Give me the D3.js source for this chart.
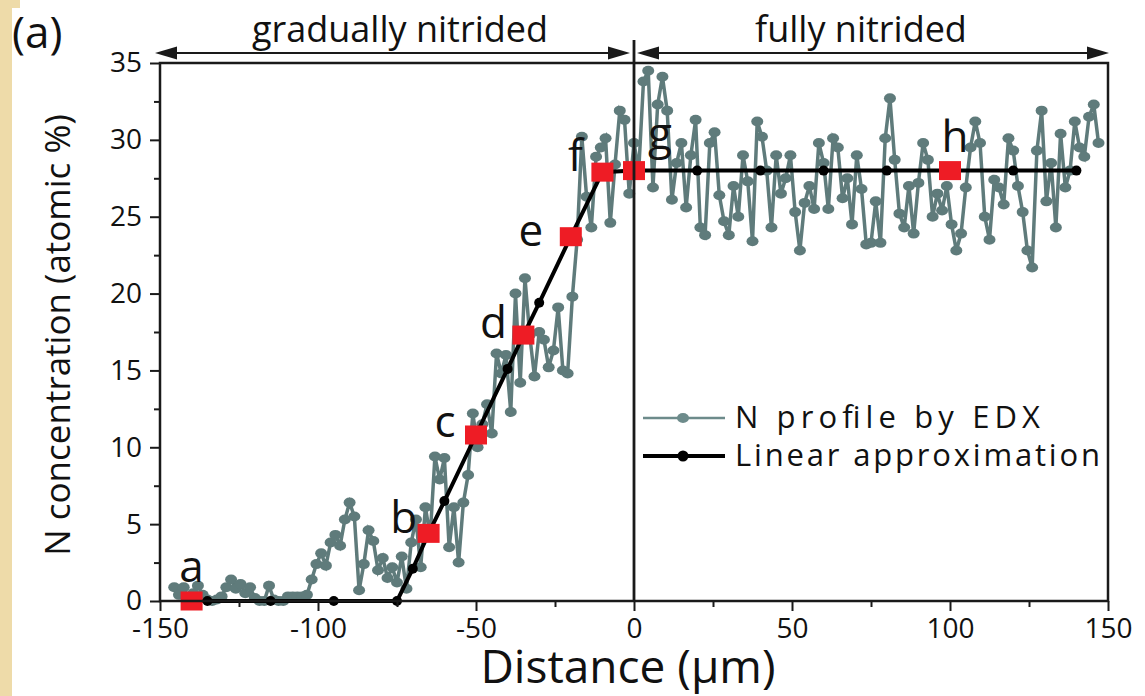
<!DOCTYPE html>
<html>
<head>
<meta charset="utf-8">
<script src="https://cdn.jsdelivr.net/npm/d3@7"></script>
<style>
  html, body { margin: 0; padding: 0; background: #fff; }
  svg { display: block; font-family: "Open Sans", sans-serif; }
</style>
</head>
<body>
<svg id="chart" width="1145" height="696"></svg>
<script>
// N profile by EDX, one reading every 1.5 um starting at -145.5 um
var edxStart = -145.5, edxStep = 1.5;
var edxN = [
  0.9, 0.4, 0.9, 0.2, 0.5, 1.0, 0.4, 0.1, 0, 0.1,
  0.3, 0.9, 1.4, 0.8, 1.1, 0.5, 0.9, 0.2, 0, 0,
  1.0, 0.1, 0, 0, 0.3, 0.3, 0.3, 0.3, 0.4, 1.4,
  2.4, 3.1, 2.3, 3.8, 4.3, 3.6, 5.3, 6.4, 5.5, 0.7,
  2.4, 4.6, 3.9, 2.0, 2.8, 1.5, 2.2, 1.2, 2.9, 0.8,
  3.8, 5.3, 2.2, 6.1, 4.2, 9.4, 7.9, 9.3, 3.5, 6.1,
  2.5, 6.4, 8.2, 12.2, 10.0, 11.5, 12.8, 10.9, 16.1, 14.8,
  16.0, 12.3, 20.0, 14.2, 21.0, 17.3, 14.6, 17.5, 17.0, 15.2,
  16.3, 19.1, 15.0, 14.8, 19.8, 23.5, 30.2, 26.3, 24.3, 28.9,
  29.5, 30.1, 24.6, 28.4, 31.9, 31.3, 26.5,
  29.8, 28.0, 33.8, 34.5, 26.9, 32.3, 34.1, 31.9, 26.1, 28.5,
  29.8, 25.6, 29.0, 31.3, 24.3, 23.8, 29.8, 30.5, 26.4, 24.7,
  23.8, 27.0, 25.0, 29.0, 27.3, 23.4, 31.2, 30.2, 28.0, 24.3,
  29.0, 26.5, 27.5, 29.0, 25.3, 22.8, 25.9, 27.0, 25.5, 29.8,
  28.5, 25.5, 30.1, 29.5, 26.2, 27.5, 24.5, 29.0, 26.8, 23.2,
  23.3, 26.0, 23.3, 30.1, 32.7, 28.7, 25.2, 24.3, 27.0, 23.9,
  27.2, 29.8, 28.7, 25.0, 26.5, 25.4, 27.0, 24.5, 22.8, 23.9,
  26.9, 29.5, 31.2, 29.8, 25.0, 23.5, 27.4, 26.9, 25.8, 30.1,
  29.3, 27.0, 25.3, 22.8, 21.7, 29.3, 31.9, 26.0, 28.5, 24.3,
  30.4, 26.9, 28.0, 31.2, 29.5, 28.9, 31.5, 32.3, 29.8
];

// linear approximation nodes
var linDist = [-140, -135, -115, -95, -75, -70, -65, -60, -50, -40, -35, -30, -20, -10, 0, 20, 40, 60, 80, 100, 120, 140];
var linN    = [0, 0, 0, 0, 0, 2.1, 4.4, 6.5, 10.8, 15.1, 17.3, 19.4, 23.7, 27.9, 28, 28, 28, 28, 28, 28, 28, 28];

// marked points a..h
var markName = ["a", "b", "c", "d", "e", "f", "g", "h"];
var markDist = [-140, -65, -50, -35, -20, -10, 0, 100];
var markN    = [0, 4.4, 10.8, 17.3, 23.7, 27.9, 28, 28];

var yMajor = [0, 5, 10, 15, 20, 25, 30, 35];
var yMinor = [2.5, 7.5, 12.5, 17.5, 22.5, 27.5, 32.5];
var xMajor = [-150, -100, -50, 0, 50, 100, 150];
var xMinor = [-125, -75, -25, 25, 75, 125];

var teal = "#5f7b7b", dark = "#1a1a1a", red = "#ee1c25";

var svg = d3.select("#chart");

// beige page border on the left
svg.append("rect").attr("x", 0).attr("y", 0).attr("width", 12).attr("height", 696).attr("fill", "#eedba9");
svg.append("rect").attr("x", 0).attr("y", 0).attr("width", 20).attr("height", 8).attr("fill", "#eedba9");

var x = d3.scaleLinear().domain([-150, 150]).range([160, 1108]);
var y = d3.scaleLinear().domain([0, 35]).range([601, 63]);

var edx = edxN.map(function (v, i) { return { d: edxStart + i * edxStep, n: v }; });
var lin = linDist.map(function (d, i) { return { d: d, n: linN[i] }; });

var line = d3.line().x(function (p) { return x(p.d); }).y(function (p) { return y(p.n); });

// EDX profile
svg.append("path").datum(edx)
  .attr("d", line).attr("fill", "none")
  .attr("stroke", teal).attr("stroke-width", 3.5);
svg.append("g").selectAll("ellipse").data(edx).enter().append("ellipse")
  .attr("cx", function (p) { return x(p.d); })
  .attr("cy", function (p) { return y(p.n); })
  .attr("rx", 6).attr("ry", 5)
  .attr("fill", teal);

// linear approximation
svg.append("path").datum(lin)
  .attr("d", line).attr("fill", "none")
  .attr("stroke", "#000").attr("stroke-width", 4);
svg.append("g").selectAll("circle").data(lin).enter().append("circle")
  .attr("cx", function (p) { return x(p.d); })
  .attr("cy", function (p) { return y(p.n); })
  .attr("r", 5).attr("fill", "#000");

// red squares and letters
var labelShift = { a: [0, -19], b: [-25, 0], c: [-31, 2], d: [-30, 3], e: [-40, 9], f: [-27, -1], g: [26, -22], h: [5, -19] };
markName.forEach(function (name, i) {
  var cx = x(markDist[i]), cy = y(markN[i]);
  svg.append("rect").attr("x", cx - 11).attr("y", cy - 9.5)
    .attr("width", 22).attr("height", 19).attr("fill", red);
  svg.append("text").attr("x", cx + labelShift[name][0]).attr("y", cy + labelShift[name][1])
    .attr("text-anchor", "middle").attr("font-size", 44).attr("fill", "#111")
    .text(name);
});

// frame
svg.append("rect").attr("x", x(-150)).attr("y", y(35))
  .attr("width", x(150) - x(-150)).attr("height", y(0) - y(35))
  .attr("fill", "none").attr("stroke", dark).attr("stroke-width", 2.5);

// zero line separating the two zones
svg.append("line").attr("x1", x(0)).attr("x2", x(0)).attr("y1", 40).attr("y2", y(0))
  .attr("stroke", dark).attr("stroke-width", 2.8);

// axes
function styleAxis(g) {
  g.select(".domain").remove();
  g.selectAll(".tick line").attr("stroke", dark).attr("stroke-width", 2);
  g.selectAll(".tick text").attr("fill", "#111").attr("font-size", 28)
    .attr("font-family", "Open Sans, sans-serif");
}
svg.append("g").attr("transform", "translate(" + x(-150) + ",0)")
  .call(d3.axisLeft(y).tickValues(yMajor).tickSize(10).tickPadding(8).tickFormat(function (d) { return String(d); }))
  .call(styleAxis);
svg.append("g").attr("transform", "translate(" + x(-150) + ",0)")
  .call(d3.axisLeft(y).tickValues(yMinor).tickSize(6).tickFormat(""))
  .call(styleAxis);
svg.append("g").attr("transform", "translate(0," + y(0) + ")")
  .call(d3.axisBottom(x).tickValues(xMajor).tickSize(10).tickPadding(7).tickFormat(function (d) { return String(d); }))
  .call(styleAxis);
svg.append("g").attr("transform", "translate(0," + y(0) + ")")
  .call(d3.axisBottom(x).tickValues(xMinor).tickSize(6).tickFormat(""))
  .call(styleAxis);

// axis titles
svg.append("text").attr("x", 628).attr("y", 683).attr("text-anchor", "middle")
  .attr("font-size", 46).attr("fill", "#111")
  .text("Distance (\u00b5m)");
svg.append("text").attr("transform", "translate(70,335) rotate(-90)").attr("text-anchor", "middle")
  .attr("font-size", 35).attr("fill", "#111")
  .text("N concentration (atomic %)");

// panel tag
svg.append("text").attr("x", 12).attr("y", 48).attr("font-size", 44).attr("fill", "#111").text("(a)");

// zone arrows
function arrow(x1, x2, yy) {
  svg.append("line").attr("x1", x1 + 4).attr("x2", x2 - 4).attr("y1", yy).attr("y2", yy)
    .attr("stroke", dark).attr("stroke-width", 2.2);
  svg.append("path").attr("d", "M" + x1 + "," + yy + "l22,-6.5l0,13z").attr("fill", dark);
  svg.append("path").attr("d", "M" + x2 + "," + yy + "l-22,-6.5l0,13z").attr("fill", dark);
}
arrow(x(-150) - 5, x(0) - 4, 53);
arrow(x(0) + 3, x(150) + 1, 53);
svg.append("text").attr("x", 400).attr("y", 42).attr("text-anchor", "middle")
  .attr("font-size", 36).attr("fill", "#111").text("gradually nitrided");
svg.append("text").attr("x", 861).attr("y", 42).attr("text-anchor", "middle")
  .attr("font-size", 36).attr("fill", "#111").text("fully nitrided");

// legend
var lg = svg.append("g");
lg.append("line").attr("x1", 643).attr("x2", 725).attr("y1", 418).attr("y2", 418)
  .attr("stroke", "#6d8b8b").attr("stroke-width", 2.5);
lg.append("ellipse").attr("cx", 683).attr("cy", 418).attr("rx", 6).attr("ry", 5).attr("fill", "#6d8b8b");
lg.append("line").attr("x1", 643).attr("x2", 725).attr("y1", 456).attr("y2", 456)
  .attr("stroke", "#000").attr("stroke-width", 4);
lg.append("circle").attr("cx", 683).attr("cy", 456).attr("r", 5.5).attr("fill", "#000");
lg.append("text").attr("x", 735).attr("y", 428).attr("font-size", 31).attr("fill", "#111")
  .attr("textLength", 305).text("N profile by EDX");
lg.append("text").attr("x", 735).attr("y", 466).attr("font-size", 31).attr("fill", "#111")
  .attr("textLength", 365).text("Linear approximation");
</script>
</body>
</html>
